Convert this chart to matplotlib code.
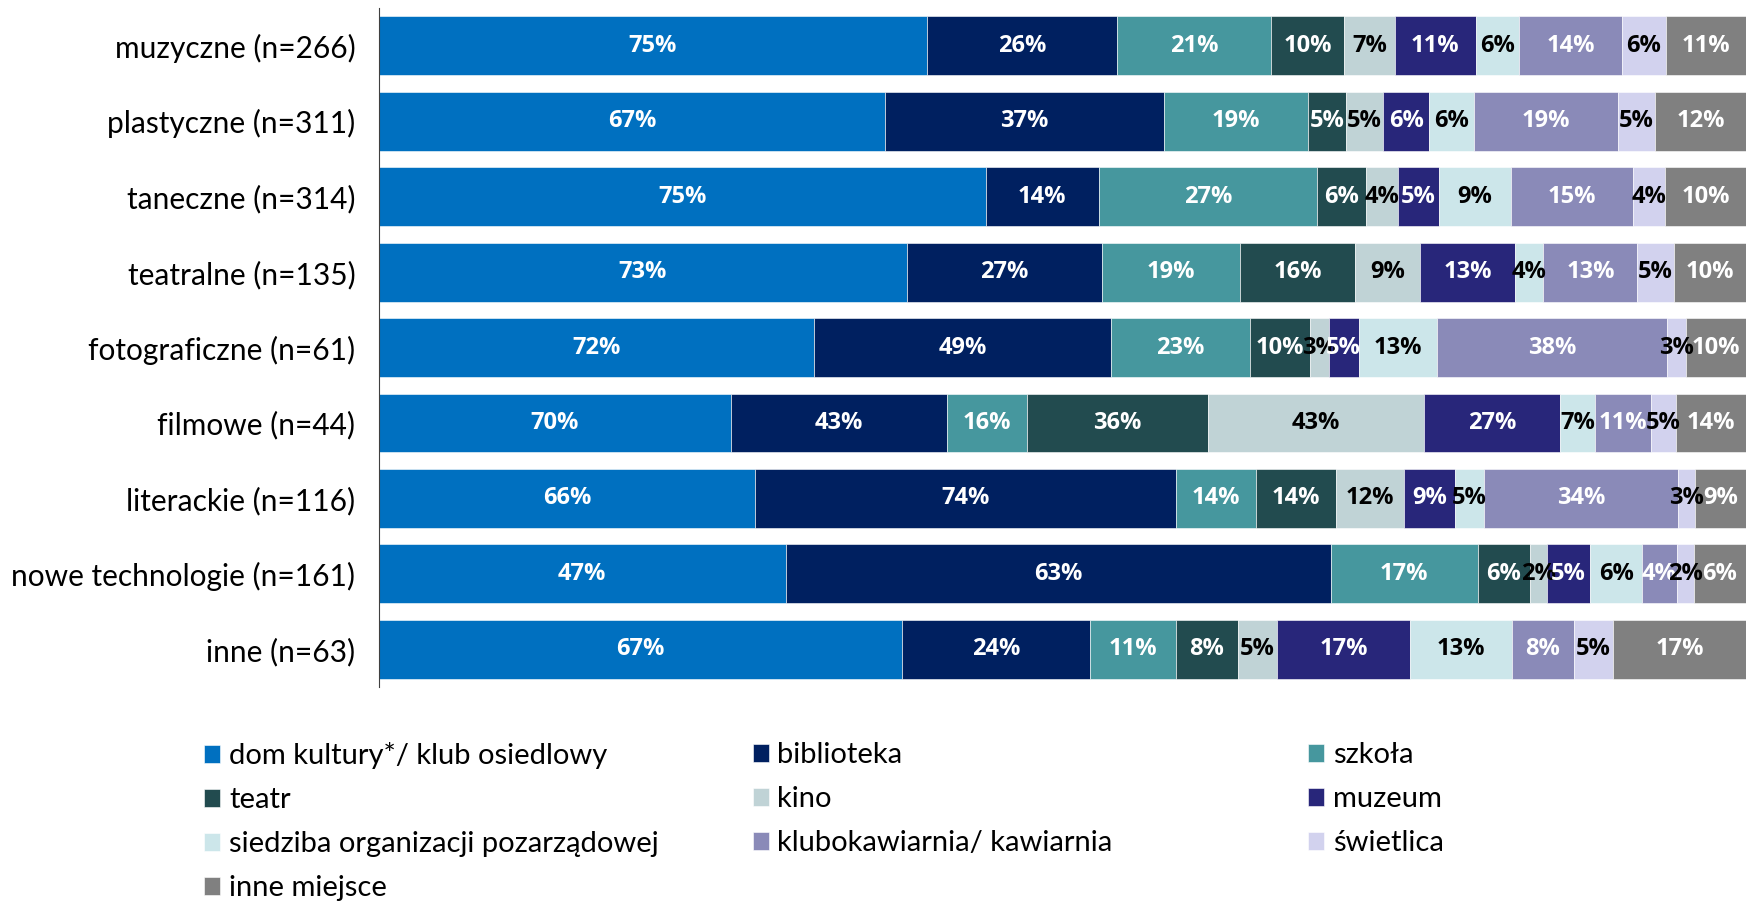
import matplotlib.pyplot as plt
import numpy as np

plt.rcParams['font.family'] = ['Lato', 'DejaVu Sans']

categories = ['muzyczne (n=266)', 'plastyczne (n=311)', 'taneczne (n=314)',
              'teatralne (n=135)', 'fotograficzne (n=61)', 'filmowe (n=44)',
              'literackie (n=116)', 'nowe technologie (n=161)', 'inne (n=63)']

places = ['dom kultury*/ klub osiedlowy', 'biblioteka', 'szkoła', 'teatr', 'kino',
          'muzeum', 'siedziba organizacji pozarządowej', 'klubokawiarnia/ kawiarnia',
          'świetlica', 'inne miejsce']

# percent per category (rows) and place (columns)
muzyczne = [75, 26, 21, 10, 7, 11, 6, 14, 6, 11]
plastyczne = [67, 37, 19, 5, 5, 6, 6, 19, 5, 12]
taneczne = [75, 14, 27, 6, 4, 5, 9, 15, 4, 10]
teatralne = [73, 27, 19, 16, 9, 13, 4, 13, 5, 10]
fotograficzne = [72, 49, 23, 10, 3, 5, 13, 38, 3, 10]
filmowe = [70, 43, 16, 36, 43, 27, 7, 11, 5, 14]
literackie = [66, 74, 14, 14, 12, 9, 5, 34, 3, 9]
nowe_technologie = [47, 63, 17, 6, 2, 5, 6, 4, 2, 6]
inne = [67, 24, 11, 8, 5, 17, 13, 8, 5, 17]

colors = ['#0070C0', '#002060', '#46979E', '#224B4F', '#C0D3D6',
          '#28267A', '#CCE6EA', '#8A8AB8', '#D2D2EE', '#808080']
text_colors = ['white', 'white', 'white', 'white', 'black',
               'white', 'black', 'white', 'black', 'white']

data = np.array([muzyczne, plastyczne, taneczne, teatralne, fotograficzne,
                 filmowe, literackie, nowe_technologie, inne], dtype=float)
shares = data / data.sum(axis=1, keepdims=True)

fig = plt.figure(figsize=(17.46, 9.05), dpi=100)
ax = fig.add_axes([0.217, 0.241, 0.783, 0.75])

y = np.arange(len(categories))
left = np.zeros(len(categories))
bars = []
for j in range(len(places)):
    b = ax.barh(y, shares[:, j], left=left, height=0.78, color=colors[j],
                label=places[j], edgecolor='white', linewidth=0.4)
    bars.append(b)
    for i in range(len(categories)):
        ax.text(left[i] + shares[i, j] / 2, y[i], f'{int(data[i, j])}%',
                ha='center', va='center', color=text_colors[j],
                fontsize=17, fontweight='bold', family=['Open Sans', 'DejaVu Sans'])
    left += shares[:, j]

ax.set_xlim(0, 1)
ax.set_ylim(len(categories) - 0.5, -0.5)
ax.set_yticks(y)
ax.set_yticklabels(categories, fontsize=21.5)
ax.tick_params(axis='y', length=0, pad=17)
ax.set_xticks([])
for s in ['top', 'right', 'bottom']:
    ax.spines[s].set_visible(False)
ax.spines['left'].set_color('#404040')

# legend, filled row by row in three columns
cols = [[0, 3, 6, 9], [1, 4, 7], [2, 5, 8]]
xs = [0.117, 0.431, 0.749]
for c, x in zip(cols, xs):
    leg = fig.legend([bars[k] for k in c], [places[k] for k in c],
                     loc='upper left', bbox_to_anchor=(x, 0.180), frameon=False,
                     fontsize=21, handlelength=0.55, handleheight=0.55,
                     handletextpad=0.3, labelspacing=0.62, borderpad=0,
                     borderaxespad=0)

fig.savefig('out.png', dpi=100)
